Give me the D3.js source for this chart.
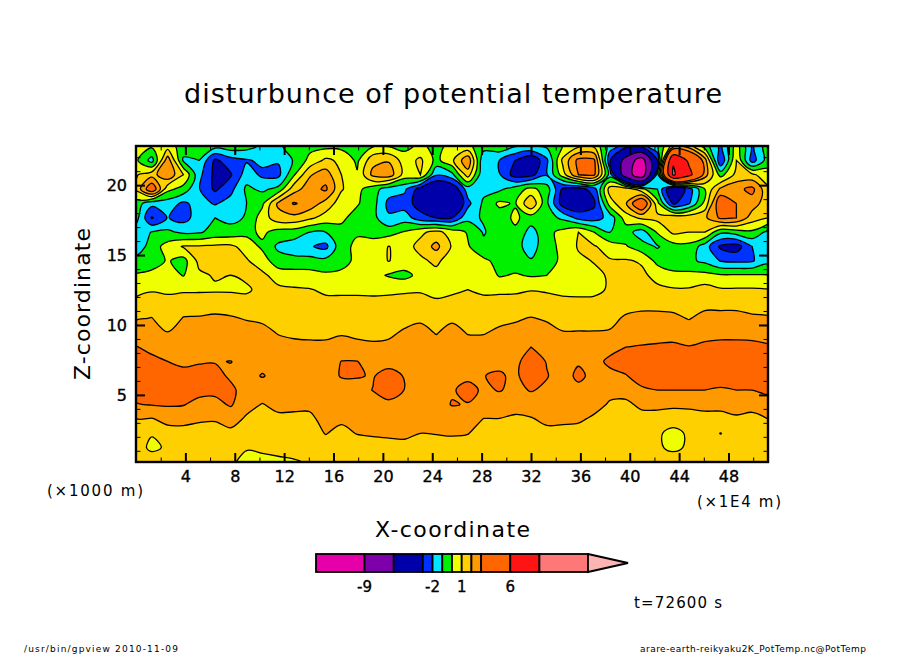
<!DOCTYPE html>
<html>
<head>
<meta charset="utf-8">
<script src="https://cdn.jsdelivr.net/npm/d3@7"></script>
<style>
  html, body { margin: 0; padding: 0; background: #fff; }
  svg { display: block; }
  text { font-family: "DejaVu Sans", sans-serif; fill: #000; }
</style>
</head>
<body>
<svg id="chart" width="904" height="654"></svg>
<script>
// contour levels and the colour of each band, band i starts at levels[i]
const levels = [-14, -9, -6, -3, -2, -1, 0, 1, 2, 3, 6, 9, 14];
const bandColors = ["#e600aa", "#7d00aa", "#0000aa", "#0032ff", "#00e6ff", "#00f000",
  "#f0ff00", "#ffd000", "#ff9900", "#ff6600", "#ff1414", "#ff7878", "#ffb4b4"];
const barLabels = [-9, -2, 1, 6];

const xMajorTicks = [4, 8, 12, 16, 20, 24, 28, 32, 36, 40, 44, 48];
const zMajorTicks = [5, 10, 15, 20];

// potential temperature disturbance. top row first, 41 values per row
const row0 = [0.5,0.2,0.5,-0.5,-0.5,-0.6,-0.4,-0.6,-1.2,-1.3,-0.3,-0.3,-0.3,-0.3,-0.2,-0.1,-0.1,-0.3,0.2,-0.3,0.3,0.2,-0.5,-0.3,-0.9,-1.0,-0.8,0,0.8,0.8,-1.5,-2.5,-2.5,-1.2,1.5,1.5,-0.5,-2.3,0.5,-2.2,-0.4];
const row1 = [0.2,-1.4,2.6,-1.15,-1.0,-3.2,-2.4,-2.1,-1.8,-1.9,-0.9,0.3,1.2,0.8,-0.2,1.7,1.9,0.5,1.2,-0.3,0.8,2.8,-1.9,-2.0,-3.0,-4.0,-2.2,1.2,3.3,3.2,-2.9,-7,-10.5,-3.0,8.8,5.5,2.5,-3,1.0,-2.5,-0.5];
const row2 = [0.9,1.6,2.8,1.0,-1.7,-3.3,-3.1,-1.5,-2.2,-2.3,-0.1,1.9,2.5,1.0,0.1,2.3,2.6,0.6,1.0,-1.9,-1.3,1.5,-1.9,-1.9,-3.5,-3.3,-2.1,0.5,3.0,3.2,-1.5,-7.5,-11,-1.5,9.3,6.8,2.5,-0.4,1.3,1.2,0.4];
const row3 = [1.2,4.0,0.3,-0.4,-1.95,-3.2,-2.3,-0.8,-1.2,-0.7,1.6,2.5,3.2,1.1,0.3,-0.6,-1.5,-1.8,-3.5,-4.5,-4.0,-1.5,-1.3,-1.2,-0.5,0.3,-0.5,-3.2,-3.5,-2.5,1.5,1.7,0.3,-1.0,-4.5,-2.5,0,2.2,2.7,3.3,1.2];
const row4 = [-0.5,-1.7,-1.5,-2.2,-1.6,-2.1,-1.6,-1.0,-0.2,2.2,3.1,2.6,1.6,0.5,0.1,-0.6,-2.3,-2.5,-3.5,-5,-5,-2.3,-0.8,0.2,-0.1,1.9,-0.8,-3.5,-4,-3.2,0.5,1.9,4.5,0.3,-3.2,-2.1,0.3,4,3,2.5,1.4];
const row5 = [-0.6,-3.1,-1.95,-2.4,-1.5,-1.0,-1.3,-0.9,0.5,1.6,1.7,1.2,0.6,0.2,-0.4,-0.7,-1.85,-1.5,-2.6,-3,-3,-1.3,-0.9,-0.5,0.2,-0.5,-0.6,-1.2,-2.3,-2.5,-1.6,0.5,1.2,1.3,1.8,1.7,1.8,3.2,3,1.5,1];
const row6 = [-1.6,-0.95,-0.8,-1.2,-1.1,-0.7,-0.6,-0.3,0.2,-0.4,-0.5,-1.0,-1.0,-0.3,-0.1,-0.4,-0.4,0.1,0.8,1.3,0.6,-0.1,-1.1,-0.4,-0.2,-1.4,-0.3,0.3,1,0,-1.0,-0.6,-1.5,0.1,1.2,1.0,1,-0.8,-0.5,-0.2,-1.3];
const row7 = [-1.7,-0.5,0.4,1.1,1.1,1.2,1.2,0.6,-0.2,-1.2,-1.5,-1.9,-2.3,-0.3,0.2,0.5,1.03,0.6,1.3,2.3,0.9,0.1,-0.7,-0.1,-0.6,-1.5,-0.3,0.2,1.1,1.1,0.5,0.1,-0.6,-1.1,-0.4,-0.3,-1.5,-3.2,-3.5,-2,-1.2];
const row8 = [-0.7,-0.5,0.1,-0.4,1.3,1.5,1.4,1.1,0.5,-0.6,-0.7,-0.6,-0.7,-0.3,0.2,0.6,1.03,0.6,0.8,1.2,0.5,0.4,0.2,-0.3,-0.6,-0.9,-0.4,0.2,0.8,1.05,1.1,1.1,0.9,-0.3,-0.7,-0.8,-1.2,-2.05,-2.2,-2.1,-1.3];
const row9 = [0.1,0.3,0.4,-0.05,0.8,1.1,1.0,1.2,1.2,0.6,0.5,0.4,0.2,0.2,0.3,0.3,-0.1,-0.3,0.3,0.7,0.7,0.8,0.7,-0.1,0.1,-0.1,0,0.3,0.6,0.8,1.1,1.3,1.2,0.7,0.3,0.3,0.3,0.1,0.1,0.1,0.05];
const row10 = [0.6,0.9,0.85,0.85,0.85,0.85,0.85,0.85,1.3,1.2,1.1,1.05,0.85,0.8,0.8,0.8,0.85,0.85,0.9,0.6,0.8,1.0,0.85,0.85,0.85,0.95,0.9,0.8,0.75,0.8,1.1,1.4,1.4,1.2,1.1,1.1,1.4,1.1,1.1,1.1,1.05];
const row11 = [1.4,1.52,1.3,1.55,1.6,1.7,1.65,1.4,1.4,1.25,1.25,1.25,1.25,1.3,1.3,1.25,1.25,1.4,1.35,1.25,1.35,1.25,1.25,1.3,1.35,1.5,1.35,1.25,1.25,1.25,1.25,1.6,1.75,1.75,1.7,1.4,1.75,1.75,1.75,1.65,1.6];
const row12 = [1.92,2.03,1.5,2.05,2.07,2.13,2.07,1.95,1.85,1.45,1.4,1.4,1.4,1.5,1.4,1.35,1.4,1.65,1.85,1.55,1.85,1.55,1.55,1.8,1.9,2.05,1.9,1.65,1.65,1.65,1.7,2.15,2.25,2.25,2.2,1.95,2.3,2.3,2.3,2.15,2.1];
const row13 = [2.47,2.41,2.03,2.32,2.35,2.4,2.27,2.3,2.25,1.95,1.82,1.8,1.8,1.9,1.8,1.7,1.8,2.15,2.3,1.95,2.3,1.95,1.95,2.15,2.25,2.4,2.3,2.05,2.05,2.05,2.1,2.6,2.7,2.7,2.7,2.5,2.75,2.8,2.8,2.75,2.65];
const row14 = [3.04,2.79,2.5,2.6,2.64,2.68,2.46,2.5,2.5,2.3,2.25,2.2,2.2,2.4,2.25,2.2,2.25,2.5,2.55,2.35,2.55,2.35,2.35,2.45,2.5,3.0,2.7,2.35,2.35,2.35,2.7,3.0,3.05,3.1,3.15,3.05,3.15,3.2,3.2,3.2,3.1];
const row15 = [3.3,3.2,3.0,2.87,2.93,2.95,3.02,2.7,2.75,2.55,2.5,2.5,2.5,3.02,3.02,2.6,2.7,2.7,2.7,2.6,2.7,2.6,2.65,2.75,2.75,3.5,2.95,2.55,2.9,2.7,3.2,3.4,3.5,3.5,3.5,3.45,3.5,3.5,3.5,3.5,3.5];
const row16 = [3.5,3.5,3.3,3.2,3.3,3.3,2.85,2.75,3.05,2.75,2.7,2.7,2.7,3.05,3.05,2.95,3.3,2.95,2.75,2.7,2.8,2.8,2.98,3.12,2.8,3.6,3.05,2.6,3.2,2.75,2.75,2.95,3.4,3.5,3.5,3.45,3.5,3.4,3.5,3.5,3.5];
const row17 = [3.3,3.35,3.4,3.4,3.3,3.2,3.2,2.6,2.6,2.7,2.65,2.6,2.7,2.7,2.75,3.02,3.4,2.98,2.7,2.7,2.9,3.3,2.85,3.05,2.8,3.05,2.85,2.6,2.75,2.6,2.25,2.35,2.85,3.0,3.0,3.0,3.0,2.9,3.0,3.0,3.15];
const row18 = [2.95,3.05,3.1,3.05,2.7,2.75,3.1,2.35,1.95,2.3,2.25,2.25,2.6,2.5,2.6,2.7,2.8,2.7,2.55,2.6,3.05,2.95,2.6,2.55,2.45,2.55,2.6,2.4,2.45,2.3,1.9,1.8,2.2,2.25,2.25,2.3,2.3,2.3,2.4,2.35,2.65];
const row19 = [1.98,1.94,2.3,2.3,2.14,2.1,2.4,1.85,1.5,1.75,1.75,1.75,2.4,2.2,2.35,2.4,2.45,2.45,2.3,2.35,2.45,2.4,1.98,1.98,1.8,1.92,2.25,2.2,2.15,1.85,1.4,1.4,1.65,1.6,1.3,1.35,1.65,1.65,1.85,1.7,2.0];
const row20 = [1.46,1.05,1.6,1.65,1.6,1.55,1.75,1.35,1.4,1.45,1.5,1.5,2.05,1.7,2.05,2.15,2.2,2.25,2.0,2.05,2.1,2.05,1.5,1.5,1.35,1.4,1.7,1.7,1.65,1.4,1.3,1.25,1.3,1.1,0.8,1.1,1.35,0.98,1.4,1.35,1.5];
const row21 = [1.3,0.85,1.1,1.4,1.4,1.4,1.3,1.1,1.2,1.3,1.4,1.45,1.5,1.4,1.45,1.5,1.6,1.65,1.5,1.55,1.6,1.45,1.35,1.35,1.3,1.3,1.35,1.4,1.35,1.3,1.3,1.3,1.3,1.1,0.85,1.1,1.3,1.3,1.3,1.3,1.35];
const row22 = [1.4,1.4,1.35,1.4,1.4,1.35,1.2,0.6,0.7,0.8,0.9,1.1,1.4,1.4,1.4,1.4,1.4,1.4,1.4,1.4,1.4,1.4,1.4,1.4,1.4,1.4,1.4,1.4,1.4,1.4,1.4,1.4,1.4,1.4,1.4,1.4,1.4,1.4,1.4,1.4,1.4];
const gridRows = [row0, row1, row2, row3, row4, row5, row6, row7, row8, row9, row10, row11,
  row12, row13, row14, row15, row16, row17, row18, row19, row20, row21, row22];

const nx = row0.length;
const nz = gridRows.length;
const xMin = 0, xMax = 51.2, zMin = 0.2, zMax = 22.8;
const dx = (xMax - xMin) / (nx - 1);
const dz = (zMax - zMin) / (nz - 1);

const plot = { left: 136, right: 768, top: 146, bottom: 462 };
const scaleX = d3.scaleLinear().domain([xMin, xMax]).range([plot.left, plot.right]);
const scaleZ = d3.scaleLinear().domain([zMin, zMax]).range([plot.bottom, plot.top]);

const svg = d3.select("#chart");

svg.append("clipPath").attr("id", "plot-clip")
  .append("rect")
  .attr("x", plot.left).attr("y", plot.top)
  .attr("width", plot.right - plot.left).attr("height", plot.bottom - plot.top);

// d3.contours puts grid point i at i + 0.5
const ringLine = d3.line()
  .x((p) => scaleX(xMin + (p[0] - 0.5) * dx))
  .y((p) => scaleZ(zMax - (p[1] - 0.5) * dz))
  .curve(d3.curveCatmullRomClosed.alpha(0.5));

const bandPath = (band) =>
  band.coordinates
    .flatMap((polygon) => polygon.map((ring) => ringLine(ring.slice(0, -1))))
    .join("");

const bands = d3.contours().size([nx, nz]).thresholds(levels)(gridRows.flat());

const colorOf = d3.scaleOrdinal().domain(levels).range(bandColors);

const field = svg.append("g").attr("clip-path", "url(#plot-clip)");

field.selectAll("path.band")
  .data(bands)
  .enter()
  .append("path")
  .attr("class", "band")
  .attr("d", bandPath)
  .attr("fill-rule", "evenodd")
  .style("fill", (d) => colorOf(d.value))
  .style("stroke", "none");

field.selectAll("path.line")
  .data(bands)
  .enter()
  .append("path")
  .attr("class", "line")
  .attr("d", bandPath)
  .style("fill", "none")
  .style("stroke", "#000")
  .style("stroke-width", 1.3);

// frame and inward ticks on all four sides
const xMinorTicks = d3.range(2, xMax, 2).filter((d) => d % 4 !== 0);
const zMinorTicks = d3.range(1, zMax, 1).filter((d) => d % 5 !== 0);

const drawAxis = (axis, scale, transform, major, minor, labels) => {
  const g = svg.append("g").attr("transform", transform);
  g.call(axis(scale).tickValues(minor).tickSize(-4.5).tickFormat(""));
  g.selectAll(".domain").remove();
  g.selectAll("line").style("stroke", "#000").style("stroke-width", 1);
  const gMajor = svg.append("g").attr("transform", transform);
  gMajor.call(axis(scale).tickValues(major).tickSize(-9).tickPadding(9)
    .tickFormat(labels ? d3.format("d") : ""));
  gMajor.selectAll(".domain").remove();
  gMajor.selectAll("line").style("stroke", "#000").style("stroke-width", 2);
  gMajor.selectAll("text")
    .style("font-size", "16px")
    .style("font-family", "'DejaVu Sans'")
    .style("stroke", "#000")
    .style("stroke-width", 0.35);
};

drawAxis(d3.axisBottom, scaleX, `translate(0,${plot.bottom})`, xMajorTicks, xMinorTicks, true);
drawAxis(d3.axisTop, scaleX, `translate(0,${plot.top})`, xMajorTicks, xMinorTicks, false);
drawAxis(d3.axisLeft, scaleZ, `translate(${plot.left},0)`, zMajorTicks, zMinorTicks, true);
drawAxis(d3.axisRight, scaleZ, `translate(${plot.right},0)`, zMajorTicks, zMinorTicks, false);

svg.append("rect")
  .attr("x", plot.left).attr("y", plot.top)
  .attr("width", plot.right - plot.left).attr("height", plot.bottom - plot.top)
  .style("fill", "none").style("stroke", "#000").style("stroke-width", 2.4);

// text
const label = (txt, x, y, size, width, anchor = "start") =>
  svg.append("text")
    .attr("x", x).attr("y", y)
    .attr("text-anchor", anchor)
    .attr("textLength", width)
    .attr("lengthAdjust", "spacing")
    .style("font-size", size + "px")
    .text(txt);

label("disturbunce of potential temperature", 184, 103, 27, 538);
label("X-coordinate", 375, 537, 22, 155);
label("(\u00d71000 m)", 47, 496, 15, 96);
label("(\u00d71E4 m)", 697, 507, 15, 84);
label("t=72600 s", 634, 608, 15, 88);
label("/usr/bin/gpview  2010-11-09", 24, 652, 9, 154);
label("arare-earth-reikyaku2K_PotTemp.nc@PotTemp", 640, 652, 9, 226);

svg.append("text")
  .attr("transform", "translate(90,380) rotate(-90)")
  .attr("textLength", 152)
  .attr("lengthAdjust", "spacing")
  .style("font-size", "22px")
  .text("Z-coordinate");

// colour bar, linear in value
const scaleBar = d3.scaleLinear().domain([-14, 14]).range([316, 588]);
const bar = { top: 554, bottom: 572, tip: 628 };

svg.append("g").selectAll("rect")
  .data(levels.slice(0, -1))
  .enter()
  .append("rect")
  .attr("x", (d) => scaleBar(d))
  .attr("y", bar.top)
  .attr("width", (d, i) => scaleBar(levels[i + 1]) - scaleBar(d))
  .attr("height", bar.bottom - bar.top)
  .style("fill", (d) => colorOf(d))
  .style("stroke", "#000")
  .style("stroke-width", 1.8);

svg.append("path")
  .attr("d", d3.line()([
    [scaleBar(14), bar.top],
    [bar.tip, (bar.top + bar.bottom) / 2],
    [scaleBar(14), bar.bottom]
  ]) + "Z")
  .style("fill", colorOf(14))
  .style("stroke", "#000")
  .style("stroke-width", 1.8);

svg.append("g").selectAll("text")
  .data(barLabels)
  .enter()
  .append("text")
  .attr("x", (d) => scaleBar(d))
  .attr("y", 592)
  .attr("text-anchor", "middle")
  .style("font-size", "15px")
  .style("stroke", "#000")
  .style("stroke-width", 0.35)
  .text((d) => d);
</script>
</body>
</html>
